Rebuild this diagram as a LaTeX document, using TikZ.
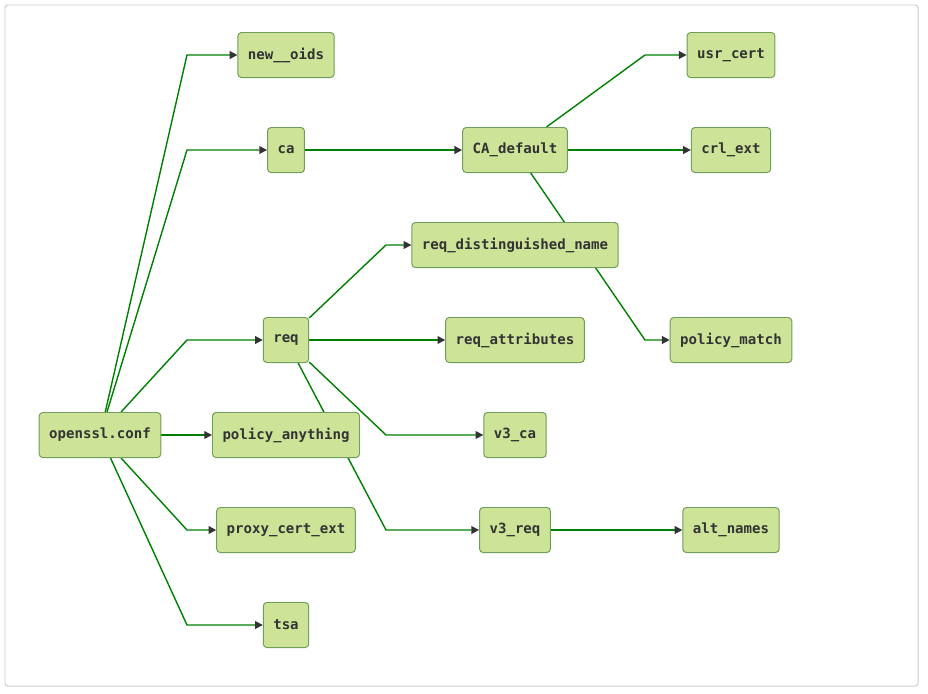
\documentclass[tikz,border=0pt]{standalone}
\usepackage{fontspec}
\setmonofont{DejaVu Sans Mono}
\usetikzlibrary{arrows.meta,backgrounds}
\definecolor{boxfill}{HTML}{CDE498}
\definecolor{boxline}{HTML}{6F9E5A}
\definecolor{linkgreen}{HTML}{008000}
\definecolor{tipgray}{HTML}{333333}
\definecolor{framegray}{HTML}{CCCCCC}
\tikzset{box/.style={draw=boxline,fill=boxfill,rounded corners=2.5pt,line width=0.7pt,minimum height=1.125cm,inner xsep=0.25cm,text=tipgray,font=\fontsize{10}{12}\selectfont\ttfamily\bfseries}}
\tikzset{link/.style={draw=linkgreen,line width=1pt,-{Triangle[length=5.5pt,width=5.5pt,color=tipgray]}}}
\begin{document}
\begin{tikzpicture}[x=0.025cm,y=-0.025cm]
    \useasboundingbox (0,0) rectangle (928,693);
    \draw[framegray,line width=0.7pt,rounded corners=2pt] (5,5) rectangle (918,686);
    \node[box] (conf) at (100,435) {openssl.conf};
    \node[box] (oids) at (286,55) {new\_\_oids};
    \node[box] (ca) at (286,150) {ca};
    \node[box] (req) at (286,340) {req};
    \node[box] (polany) at (286,435) {policy\_anything};
    \node[box] (proxy) at (286,530) {proxy\_cert\_ext};
    \node[box] (tsa) at (286,625) {tsa};
    \node[box] (cadef) at (515,150) {CA\_default};
    \node[box] (dn) at (515,245) {req\_distinguished\_name};
    \node[box] (attr) at (515,340) {req\_attributes};
    \node[box] (vca) at (515,435) {v3\_ca};
    \node[box] (vreq) at (515,530) {v3\_req};
    \node[box] (usr) at (731,55) {usr\_cert};
    \node[box] (crl) at (731,150) {crl\_ext};
    \node[box] (polmatch) at (731,340) {policy\_match};
    \node[box] (alt) at (731,530) {alt\_names};
    \begin{scope}[on background layer]
    \draw[link] (conf) -- (187,55) -- (oids);
    \draw[link] (conf) -- (187,150) -- (ca);
    \draw[link] (conf) -- (187,340) -- (req);
    \draw[link] (conf) -- (polany);
    \draw[link] (conf) -- (187,530) -- (proxy);
    \draw[link] (conf) -- (187,625) -- (tsa);
    \draw[link] (ca) -- (cadef);
    \draw[link] (cadef) -- (645,55) -- (usr);
    \draw[link] (cadef) -- (crl);
    \draw[link] (cadef) -- (645,340) -- (polmatch);
    \draw[link] (req) -- (386,245) -- (dn);
    \draw[link] (req) -- (attr);
    \draw[link] (req) -- (386,435) -- (vca);
    \draw[link] (req) -- (386,530) -- (vreq);
    \draw[link] (vreq) -- (alt);
    \end{scope}
  \end{tikzpicture}
\end{document}
